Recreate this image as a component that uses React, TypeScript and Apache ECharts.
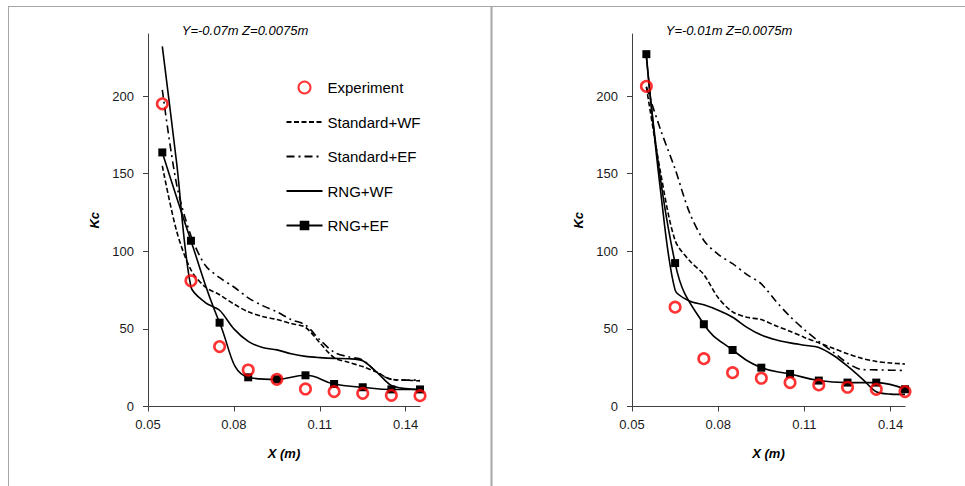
import React, { useEffect, useRef } from "react";
import * as echarts from "echarts";

// X positions (m)
const xExp = [0.055, 0.065, 0.075, 0.085, 0.095, 0.105, 0.115, 0.125, 0.135, 0.145];
const xSim = [0.055, 0.06, 0.065, 0.07, 0.075, 0.08, 0.085, 0.09, 0.095, 0.1, 0.105, 0.11, 0.115, 0.12, 0.125, 0.13, 0.135, 0.14, 0.145];

// Left panel: Y=-0.07m Z=0.0075m
const expL = [195, 81, 38.6, 23.5, 17.5, 11.3, 9.6, 8.5, 7.2, 7];
const rngEfL = [163.7, 106.8, 54, 18.8, 17.5, 20.1, 14.5, 12.4, 11, 11];
const rngWfL = [232, 157, 77, 67, 62, 50, 42, 38, 36.5, 34, 32.3, 31.5, 31, 30.8, 29.5, 22, 13.5, 11.5, 11];
const stdWfL = [155, 113, 88, 77, 72, 66, 61, 58, 56, 53.5, 51, 41, 31.5, 28.5, 25.7, 22, 17.5, 17, 16.5];
const stdEfL = [204, 143, 110, 91, 83, 77, 70, 65, 61, 56, 52.5, 43, 35, 32, 30, 22, 17.5, 17, 17];

// Right panel: Y=-0.01m Z=0.0075m
const expR = [206.3, 64, 30.8, 21.8, 18.2, 15.4, 13.9, 12.4, 11.1, 9.6];
const rngEfR = [227, 92.4, 53, 36.4, 25, 21, 16.7, 15.4, 15.4, 11.1];
const rngWfR = [225, 138, 75, 68, 65.5, 62, 57.5, 51, 46, 43, 41, 39.5, 38, 33, 26, 18, 9.5, 8, 7.8];
const stdWfR = [206, 150, 107, 94, 85, 70, 61, 57.5, 56, 52, 48.5, 44.5, 41, 37.5, 34, 31, 29, 28, 27.4];
const stdEfR = [206, 178, 153, 125, 107, 98, 92, 85, 79, 68, 58, 49.5, 42, 35, 28, 23.8, 23.6, 23.4, 23.2];

const titles = ["Y=-0.07m Z=0.0075m", "Y=-0.01m Z=0.0075m"];
const xTicks = [0.05, 0.08, 0.11, 0.14];
const yTicks = [0, 50, 100, 150, 200];
const seriesNames = ["Experiment", "Standard+WF", "Standard+EF", "RNG+WF", "RNG+EF"];

const FONT = "Liberation Sans";

const pairs = (xs: number[], ys: number[]) => xs.map((x, i) => [x, ys[i]]);

export default function App() {
  const ref = useRef<HTMLDivElement>(null);
  useEffect(() => {
    if (!ref.current) return;
    const chart = echarts.init(ref.current, undefined, { renderer: "svg" });

    const grids = [
      { left: 148, top: 34, width: 272, height: 372.5 },
      { left: 632, top: 34, width: 273, height: 372.5 },
    ];

    const xAxes = grids.map((_, i) => ({
      type: "value",
      gridIndex: i,
      min: 0.05,
      max: 0.145,
      interval: 0.03,
      name: "X (m)",
      nameLocation: "middle",
      nameGap: 40,
      nameTextStyle: { fontFamily: FONT, fontSize: 13, fontStyle: "italic", fontWeight: "bold", color: "#000" },
      axisLine: { lineStyle: { color: "#404040", width: 1 } },
      axisTick: { show: true, inside: false, length: 5, lineStyle: { color: "#404040" }, customValues: xTicks },
      axisLabel: {
        customValues: xTicks,
        margin: 11,
        fontFamily: FONT,
        fontSize: 13,
        color: "#1a1a1a",
        formatter: (v: number) => v.toFixed(2),
      },
      splitLine: { show: false },
    }));

    const yAxes = grids.map((_, i) => ({
      type: "value",
      gridIndex: i,
      min: 0,
      max: 240,
      interval: 50,
      name: "Kc",
      nameLocation: "middle",
      nameGap: 47,
      nameRotate: 90,
      nameTextStyle: { fontFamily: FONT, fontSize: 13, fontStyle: "italic", fontWeight: "bold", color: "#000" },
      axisLine: { show: true, lineStyle: { color: "#404040", width: 1 } },
      axisTick: { show: true, inside: false, length: 5, lineStyle: { color: "#404040" }, customValues: yTicks },
      axisLabel: {
        customValues: yTicks,
        margin: 14,
        fontFamily: FONT,
        fontSize: 13,
        color: "#1a1a1a",
      },
      splitLine: { show: false },
    }));

    const panel = [
      { exp: expL, rngEf: rngEfL, rngWf: rngWfL, stdWf: stdWfL, stdEf: stdEfL },
      { exp: expR, rngEf: rngEfR, rngWf: rngWfR, stdWf: stdWfR, stdEf: stdEfR },
    ];

    const series: any[] = [];
    panel.forEach((p, i) => {
      series.push({
        name: seriesNames[1],
        type: "line",
        xAxisIndex: i,
        yAxisIndex: i,
        data: pairs(xSim, p.stdWf),
        smooth: 0.3,
        symbol: "none",
        itemStyle: { color: "#000" },
        lineStyle: { color: "#000", width: 1.6, type: [5, 2.5] },
        z: 2,
      });
      series.push({
        name: seriesNames[2],
        type: "line",
        xAxisIndex: i,
        yAxisIndex: i,
        data: pairs(xSim, p.stdEf),
        smooth: 0.3,
        symbol: "none",
        itemStyle: { color: "#000" },
        lineStyle: { color: "#000", width: 1.6, type: [8, 4, 2, 4] },
        z: 2,
      });
      series.push({
        name: seriesNames[3],
        type: "line",
        xAxisIndex: i,
        yAxisIndex: i,
        data: pairs(xSim, p.rngWf),
        smooth: 0.3,
        symbol: "none",
        itemStyle: { color: "#000" },
        lineStyle: { color: "#000", width: 1.6, type: "solid" },
        z: 2,
      });
      series.push({
        name: seriesNames[4],
        type: "line",
        xAxisIndex: i,
        yAxisIndex: i,
        data: pairs(xExp, p.rngEf),
        smooth: 0.45,
        symbol: "rect",
        symbolSize: 8,
        showSymbol: true,
        itemStyle: { color: "#000" },
        lineStyle: { color: "#000", width: 1.6, type: "solid" },
        z: 3,
      });
      series.push({
        name: seriesNames[0],
        type: "scatter",
        xAxisIndex: i,
        yAxisIndex: i,
        data: pairs(xExp, p.exp),
        symbol: "circle",
        symbolSize: 10.5,
        itemStyle: { color: "rgba(255,255,255,0)", borderColor: "#ff0000", borderWidth: 2.6 },
        z: 5,
      });
    });

    const hiddenMarker = { color: "rgba(0,0,0,0)", borderColor: "rgba(0,0,0,0)", borderWidth: 0, opacity: 0 };

    chart.setOption({
      animation: false,
      backgroundColor: "#ffffff",
      grid: grids,
      xAxis: xAxes,
      yAxis: yAxes,
      legend: {
        data: [
          { name: seriesNames[0] },
          { name: seriesNames[1], itemStyle: hiddenMarker },
          { name: seriesNames[2], itemStyle: hiddenMarker },
          { name: seriesNames[3], itemStyle: hiddenMarker },
          { name: seriesNames[4] },
        ],
        orient: "vertical",
        left: 285.5,
        top: 80,
        padding: 0,
        itemWidth: 36,
        itemHeight: 12,
        itemGap: 19.5,
        selectedMode: false,
        textStyle: { fontFamily: FONT, fontSize: 15, color: "#000" },
      },
      graphic: [
        { type: "line", shape: { x1: 8, y1: 6.5, x2: 965, y2: 6.5 }, style: { stroke: "#a6a6a6", lineWidth: 1 } },
        { type: "line", shape: { x1: 8.5, y1: 6.5, x2: 8.5, y2: 486 }, style: { stroke: "#a6a6a6", lineWidth: 1 } },
        { type: "line", shape: { x1: 491.5, y1: 6.5, x2: 491.5, y2: 486 }, style: { stroke: "#a6a6a6", lineWidth: 2 } },
        {
          type: "text",
          x: 245,
          y: 30,
          style: { text: titles[0], fontFamily: FONT, fontSize: 13, fontStyle: "italic", fill: "#000", textAlign: "center", textVerticalAlign: "middle" },
        },
        {
          type: "text",
          x: 729,
          y: 30,
          style: { text: titles[1], fontFamily: FONT, fontSize: 13, fontStyle: "italic", fill: "#000", textAlign: "center", textVerticalAlign: "middle" },
        },
      ],
      series,
    });
    return () => chart.dispose();
  }, []);
  return <div ref={ref} style={{ position: "fixed", left: 0, top: 0, width: 965, height: 486 }} />;
}
